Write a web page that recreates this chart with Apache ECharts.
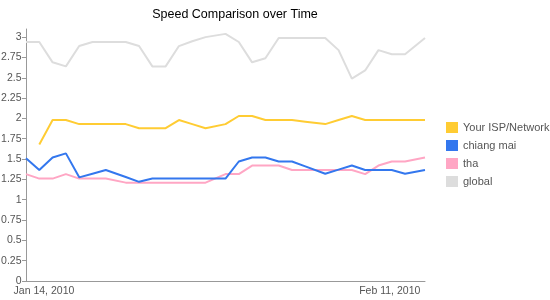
<!DOCTYPE html>
<html>
<head>
<meta charset="utf-8">
<script src="https://cdn.jsdelivr.net/npm/echarts@6/dist/echarts.min.js"></script>
<style>html,body{margin:0;padding:0;background:#fff;}#c{width:550px;height:300px;}</style>
</head>
<body>
<div id="c"></div>
<script>
const dayPos = [0,1,2,3,4,5,6,7.5,8.5,9.5,10.5,11.5,12.5,13.5,15,16,17,18,19,20,21,22.5,23.5,24.5,25.5,26.5,27.5,28.5,30];
const seriesNames = ['Your ISP/Network','chiang mai','tha','global'];
const yourIsp = [null,1.68,1.98,1.98,1.93,1.93,1.93,1.93,1.88,1.88,1.88,1.98,1.93,1.88,1.93,2.03,2.03,1.98,1.98,1.98,1.96,1.93,1.98,2.03,1.98,1.98,1.98,1.98,1.98];
const chiangMai = [1.51,1.365,1.52,1.57,1.275,1.32,1.365,1.28,1.22,1.26,1.26,1.26,1.26,1.26,1.26,1.47,1.52,1.52,1.47,1.47,1.41,1.32,1.37,1.42,1.365,1.365,1.365,1.32,1.365];
const tha = [1.315,1.26,1.26,1.315,1.26,1.26,1.26,1.21,1.21,1.21,1.21,1.21,1.21,1.21,1.315,1.315,1.42,1.42,1.42,1.365,1.365,1.365,1.365,1.365,1.315,1.42,1.47,1.47,1.52];
const globalSpeed = [2.94,2.94,2.69,2.64,2.89,2.94,2.94,2.94,2.89,2.64,2.64,2.89,2.95,3.00,3.04,2.94,2.69,2.74,2.99,2.99,2.99,2.99,2.84,2.49,2.59,2.84,2.79,2.79,2.99];
const xTickPos = [1.35, 27.35];
const xTickLabels = ['Jan 14, 2010','Feb 11, 2010'];
const yTicks = [0,0.25,0.5,0.75,1,1.25,1.5,1.75,2,2.25,2.5,2.75,3];
const colors = ['#FFCC33','#3377EE','#FFA6C4','#DDDDDD'];

const allValues = [yourIsp, chiangMai, tha, globalSpeed];
const FONT = '"Liberation Sans", Arial, sans-serif';

const chart = echarts.init(document.getElementById('c'), null, {renderer:'canvas'});
chart.setOption({
  animation: false,
  title: {
    text: 'Speed Comparison over Time',
    left: 230, textAlign: 'center', top: 3,
    textStyle: {fontFamily: FONT, fontSize: 12.5, fontWeight: 'normal', color: '#000'}
  },
  legend: {
    orient: 'vertical', left: 441, top: 117,
    itemWidth: 12, itemHeight: 11, itemGap: 7, icon: 'rect',
    data: seriesNames.slice(),
    textStyle: {fontFamily: FONT, fontSize: 11, color: '#555'}
  },
  grid: {left: 26, right: 125, top: 29, bottom: 19, containLabel: false, outerBoundsMode: 'none'},
  xAxis: {
    type: 'value', min: 0, max: 30,
    axisLine: {show: true, lineStyle: {color: '#999'}},
    axisTick: {show: false},
    splitLine: {show: false},
    axisLabel: {
      customValues: xTickPos,
      formatter: function(v){ const i = xTickPos.indexOf(v); return i >= 0 ? xTickLabels[i] : ''; },
      fontFamily: FONT, fontSize: 10.5, color: '#555', margin: 5
    }
  },
  yAxis: {
    type: 'value', min: 0, max: 3.1,
    axisLine: {show: true, lineStyle: {color: '#999'}},
    axisTick: {show: true, customValues: yTicks, length: 4, lineStyle: {color: '#999'}},
    splitLine: {show: false},
    axisLabel: {
      customValues: yTicks,
      fontFamily: FONT, fontSize: 10.5, color: '#555', margin: 4.5
    }
  },
  series: seriesNames.map((n, k) => ({
    name: n, type: 'line', showSymbol: false, symbol: 'none',
    z: 10 - k,
    lineStyle: {width: 2, color: colors[k]},
    itemStyle: {color: colors[k]},
    data: dayPos.map((d, i) => [d, allValues[k][i]])
  }))
});
</script>
</body>
</html>
